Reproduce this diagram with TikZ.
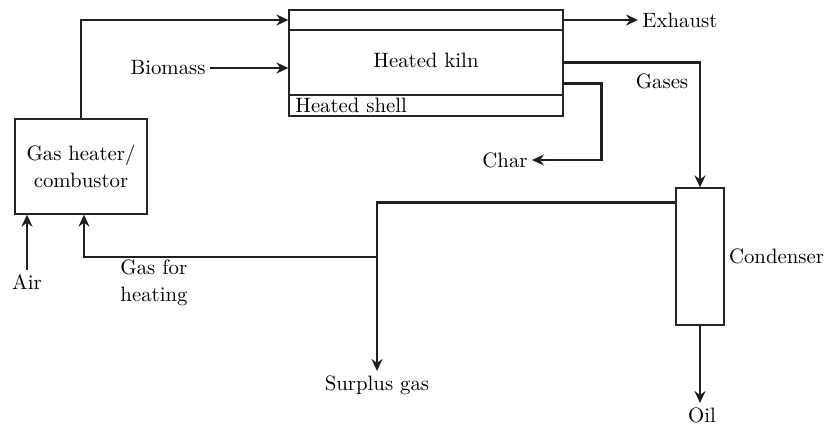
\documentclass[tikz,border=0pt]{standalone}
\usepackage{tikz}
\usetikzlibrary{arrows.meta,positioning,calc}

\begin{document}
\begin{tikzpicture}[
  x=0.5pt, y=-0.5pt,
  % --- blocks ---
  box/.style={draw=black!85, line width=0.65pt, inner sep=0pt, fill=white},
  % --- labels ---
  lbl/.style={font=\fontsize{10.4}{13.5}\selectfont, text=black, inner sep=2pt, align=center},
  % --- flow arrows ---
  arr/.style={-{Stealth[length=6pt, width=5.5pt, inset=2pt]}, line width=1.2pt, draw=black!88},
]
\useasboundingbox (0,0) rectangle (828,435);

% ===================== BLOCKS =====================

\node[box, minimum width=137pt, minimum height=32.5pt] (kiln) at (426,62.5) {};
\node[lbl, yshift=1pt] at (kiln) {Heated kiln};
\node[box, minimum width=137pt, minimum height=10pt] (strip) at (426,20) {};
\node[box, minimum width=137pt, minimum height=10.5pt] (shell) at (426,105.5) {};
\node[lbl, anchor=west, inner sep=0pt] (shelltxt) at (295,105.5) {Heated shell};

\node[box, minimum width=66pt, minimum height=47.5pt] (heater) at (81,166.5) {};
\node[lbl] at (heater) {Gas heater/\\combustor};

\node[box, minimum width=24pt, minimum height=68.5pt] (cond) at (700,256.5) {};
\node[lbl, anchor=west] (condtxt) at (cond.east) {Condenser};

% ===================== LABELS =====================

\node[lbl, anchor=east] (biomass) at (210,68) {Biomass};
\node[lbl, anchor=west] (exhaust) at (638,20) {Exhaust};
\node[lbl] (gases) at (662,81) {Gases};
\node[lbl, anchor=east] (char) at (532,160) {Char};
\node[lbl, anchor=north] (surplus) at (377,371) {Surplus gas};
\node[lbl, anchor=north] (oil) at (702,403) {Oil};
\node[lbl, anchor=north] (air) at (27,270) {Air};
\node[lbl, align=left] (gasheat) at (154,283) {Gas for\\heating};

\coordinate (split) at (377,257);

% ===================== ARROWS =====================

\draw[arr] (heater.north) |- (strip.west);
\draw[arr] (biomass.east) -- (biomass.east -| kiln.west);
\draw[arr] (strip.east) -- (exhaust.west);
\draw[arr] (kiln.east) -| (cond.north);
\draw[arr] ([yshift=-10.5pt]kiln.east) -- ++(19pt,0) |- (char.east);
\draw[arr] ([yshift=-7.5pt]cond.north west) -| (surplus.north);
\draw[arr] (split) -| ([xshift=1.5pt]heater.south);
\draw[arr] (air.north) -- (air.north |- heater.south);
\draw[arr] (cond.south) -- (cond.south |- oil.north);

\end{tikzpicture}
\end{document}
